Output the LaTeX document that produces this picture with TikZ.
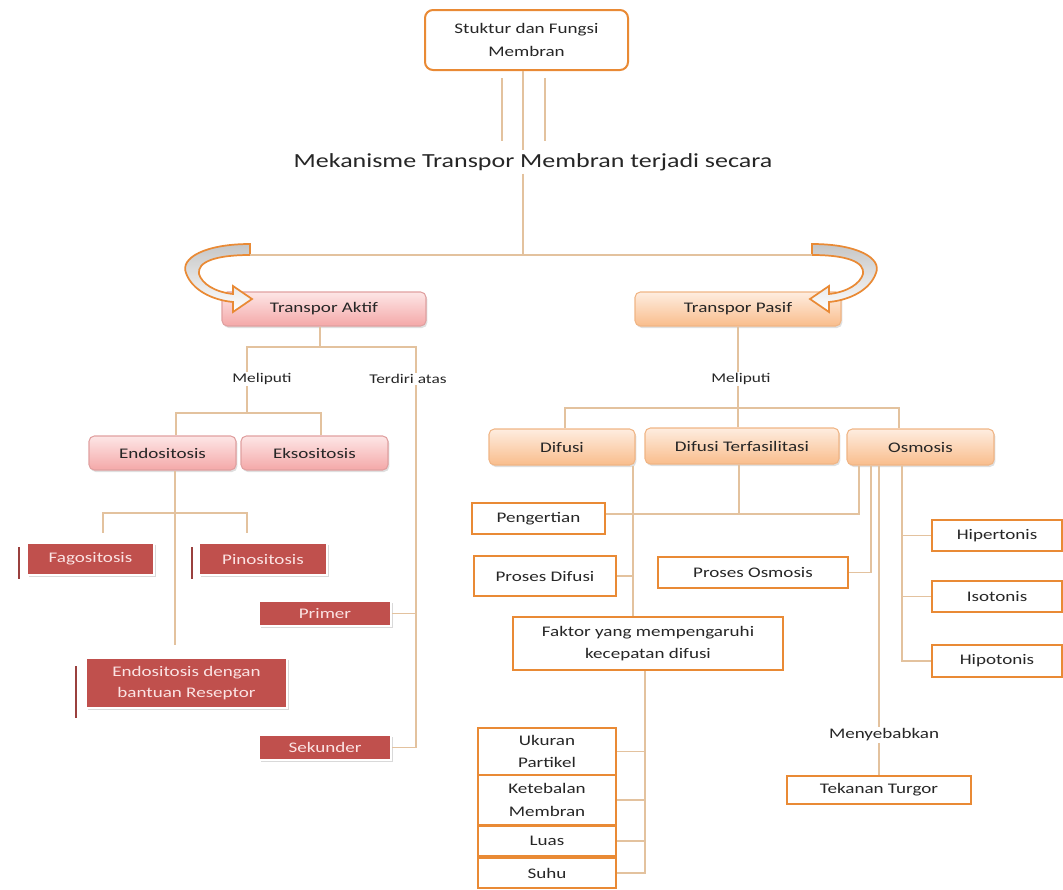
\documentclass[tikz,border=0pt]{standalone}
\usepackage{fontspec}
\setmainfont{Carlito}[FakeStretch=1.3]
\usetikzlibrary{calc,shadows}

\definecolor{orangeB}{HTML}{E98A35}
\definecolor{linkC}{HTML}{E3C29E}
\definecolor{redF}{HTML}{C0504D}
\definecolor{redT}{HTML}{FBE3E3}
\definecolor{pinkTop}{HTML}{FDE6E6}
\definecolor{pinkBot}{HTML}{F4A8A8}
\definecolor{pinkLine}{HTML}{E0A0A0}
\definecolor{peachTop}{HTML}{FEEDE0}
\definecolor{peachBot}{HTML}{F9BD8C}
\definecolor{peachLine}{HTML}{F0B585}
\definecolor{textC}{HTML}{262626}

\tikzset{
  link/.style={draw=linkC, line width=0.9pt},
  boxfont/.style={font=\fontsize{11}{17}\selectfont},
  orangebox/.style={boxfont, draw=orangeB, line width=2pt, fill=white, text=textC,
    inner sep=0pt, align=center},
  pinkbox/.style={boxfont, rounded corners=4pt, draw=pinkLine, line width=0.8pt,
    top color=pinkTop, bottom color=pinkBot, text=textC, inner sep=0pt,
    drop shadow={shadow xshift=1pt, shadow yshift=-1.5pt, opacity=0.25}},
  peachbox/.style={boxfont, rounded corners=4pt, draw=peachLine, line width=0.8pt,
    top color=peachTop, bottom color=peachBot, text=textC, inner sep=0pt,
    drop shadow={shadow xshift=1pt, shadow yshift=-1.5pt, opacity=0.25}},
  redbox/.style={boxfont, fill=redF, draw=white, line width=1.5pt, text=redT,
    inner sep=0pt, align=center,
    drop shadow={shadow xshift=1.5pt, shadow yshift=-1.5pt, opacity=0.3}},
  redbar/.style={draw=redF!80!black, line width=2.2pt},
  lbl/.style={text=textC, font=\fontsize{10}{12}\selectfont, inner sep=1pt},
  bendfill/.style={draw=orangeB, line width=1.3pt, top color=gray!45, bottom color=white},
  bendarrow/.style={insert path={(250,244) .. controls (205,244) and (180,258) .. (186,273)
    .. controls (192,290) and (212,300) .. (233,302) -- (233,312) -- (252,299)
    -- (233,286) -- (233,294) .. controls (215,292) and (202,284) .. (199,274)
    .. controls (197,262) and (215,255) .. (250,255) -- cycle}},
}

\begin{document}
\begin{tikzpicture}[x=0.75pt,y=-0.75pt]
  \useasboundingbox (0,0) rectangle (1063,889);

  % top of the map
  \node[orangebox, rounded corners=6pt, line width=1.5pt, minimum width=152.25pt,
    minimum height=45pt] (top) at (526.5,40) {Stuktur dan Fungsi\\Membran};
  \node[text=textC, font=\fontsize{15}{18}\selectfont, inner sep=2pt] (title) at (533,162)
    {Mekanisme Transpor Membran terjadi secara};

  \coordinate (jA) at (523,255);
  \coordinate (lA) at (250,255);
  \coordinate (rA) at (812,255);

  \node[pinkbox, minimum width=153pt, minimum height=25.5pt] (aktif) at (324,309) {Transpor Aktif};
  \node[peachbox, minimum width=154.5pt, minimum height=25.5pt] (pasif) at (738,309) {Transpor Pasif};

  % transpor aktif
  \node[lbl] (mlA) at (262,379) {Meliputi};
  \node[lbl] (tdA) at (408,379) {Terdiri atas};
  \node[pinkbox, minimum width=110.25pt, minimum height=25.5pt] (endo) at (162.5,453) {Endositosis};
  \node[pinkbox, minimum width=110.25pt, minimum height=25.5pt] (ekso) at (314.5,453) {Eksositosis};
  \node[redbox, minimum width=95.25pt, minimum height=24pt] (fago) at (90.5,559) {Fagositosis};
  \node[redbox, minimum width=96pt, minimum height=24pt] (pino) at (263,559) {Pinositosis};
  \node[redbox, minimum width=99pt, minimum height=18.75pt] (primer) at (325,613.5) {Primer};
  \node[redbox, minimum width=150.75pt, minimum height=37.5pt, font=\fontsize{11}{16}\selectfont]
    (resep) at (186.5,683) {Endositosis dengan\\bantuan Reseptor};
  \node[redbox, minimum width=99pt, minimum height=18.75pt] (sekunder) at (325,747.5) {Sekunder};
  \draw[redbar] ($(fago.north west)+(-7,5)$) -- ($(fago.south west)+(-7,3)$);
  \draw[redbar] ($(pino.north west)+(-6,5)$) -- ($(pino.south west)+(-6,3)$);
  \draw[redbar] ($(resep.north west)+(-9,9)$) -- ($(resep.south west)+(-9,9)$);

  % transpor pasif
  \node[lbl] (mlP) at (741,379) {Meliputi};
  \node[peachbox, minimum width=109.5pt, minimum height=27pt] (difusi) at (562,447) {Difusi};
  \node[peachbox, minimum width=145.5pt, minimum height=27pt] (dt) at (742,446) {Difusi Terfasilitasi};
  \node[peachbox, minimum width=110.25pt, minimum height=27pt] (osmo) at (920.5,447) {Osmosis};
  \node[orangebox, minimum width=99.75pt, minimum height=23.25pt] (peng) at (538.5,518.5) {Pengertian};
  \node[orangebox, minimum width=106.5pt, minimum height=30pt] (pdif) at (545,576) {Proses Difusi};
  \node[orangebox, minimum width=142.5pt, minimum height=23.25pt] (posmo) at (753,572.5) {Proses Osmosis};
  \node[orangebox, minimum width=202.5pt, minimum height=39.75pt] (faktor) at (648,643.5)
    {Faktor yang mempengaruhi\\kecepatan difusi};
  \node[orangebox, minimum width=97.5pt, minimum height=23.25pt] (hiper) at (997,535.5) {Hipertonis};
  \node[orangebox, minimum width=97.5pt, minimum height=23.25pt] (iso) at (997,596.5) {Isotonis};
  \node[orangebox, minimum width=97.5pt, minimum height=24pt] (hipo) at (997,661) {Hipotonis};
  \node[lbl, font=\fontsize{11}{13}\selectfont] (meny) at (884,735) {Menyebabkan};
  \node[orangebox, minimum width=138pt, minimum height=21pt] (turgor) at (879,790) {Tekanan Turgor};
  \node[orangebox, minimum width=103.5pt, minimum height=35.25pt] (ukuran) at (547,751.5) {Ukuran\\Partikel};
  \node[orangebox, minimum width=103.5pt, minimum height=37.5pt] (tebal) at (547,800) {Ketebalan\\Membran};
  \node[orangebox, minimum width=103.5pt, minimum height=22.5pt] (luas) at (547,841) {Luas};
  \node[orangebox, minimum width=103.5pt, minimum height=22.5pt] (suhu) at (547,873) {Suhu};

  % bent arrows
  \draw[bendfill, bendarrow];
  \begin{scope}[xshift=796.5pt, xscale=-1]
    \draw[bendfill, bendarrow];
  \end{scope}

  % connectors
  \draw[link] (top.south -| jA) -- (title.north -| jA);
  \draw[link] ($(top.south -| jA)+(-21,7)$) -- ($(title.north -| jA)+(-21,-9)$);
  \draw[link] ($(top.south -| jA)+(22,7)$) -- ($(title.north -| jA)+(22,-9)$);
  \draw[link] (title.south -| jA) -- (jA);
  \draw[link] (lA) -- (rA);

  \coordinate (jB) at (320,347);
  \coordinate (kA) at (247,347);
  \coordinate (kB) at (416,347);
  \coordinate (cE) at (176,413);
  \coordinate (cK) at (321,413);
  \draw[link] (aktif.south -| jB) -- (jB);
  \draw[link] (kA |- mlA.north) -- (kA) -- (kB) -- (kB |- tdA.north);
  \draw[link] (kA |- mlA.south) -- (kA |- cE);
  \draw[link] (endo.north -| cE) -- (cE) -- (cK) -- (ekso.north -| cK);
  \draw[link] (kB |- tdA.south) -- (kB |- sekunder.east) -- (sekunder.east);
  \draw[link] (primer.east) -- (primer.east -| kB);

  \coordinate (cF) at (175,513);
  \coordinate (cG) at (103,513);
  \coordinate (cH) at (247,513);
  \draw[link, shorten >=9pt] (endo.south -| cF) -- (resep.north -| cF);
  \draw[link, shorten <=7pt, shorten >=7pt] (fago.north -| cG) -- (cG) -- (cH) -- (pino.north -| cH);

  \coordinate (cP1) at (565,408);
  \coordinate (cP3) at (899,408);
  \draw[link] (pasif.south) -- (pasif.south |- mlP.north);
  \draw[link] (pasif.south |- mlP.south) -- (dt.north -| pasif.south);
  \draw[link] (difusi.north -| cP1) -- (cP1) -- (cP3) -- (osmo.north -| cP3);

  \coordinate (cQ) at (739,514);
  \coordinate (cR) at (859,514);
  \coordinate (cS) at (633,576);
  \coordinate (cT) at (871,575);
  \coordinate (cU) at (879,700);
  \coordinate (cV) at (902,600);
  \coordinate (cW) at (645,883);
  \draw[link] (dt.south -| cQ) -- (cQ);
  \draw[link] (peng.east |- cQ) -- (cR) -- (osmo.south -| cR);
  \draw[link] (difusi.south -| cS) -- (faktor.north -| cS);
  \draw[link] (pdif.east) -- (pdif.east -| cS);
  \draw[link] (posmo.east) -- (posmo.east -| cT) -- (osmo.south -| cT);
  \draw[link] (osmo.south -| cU) -- (meny.north -| cU);
  \draw[link] (meny.south -| cU) -- (turgor.north -| cU);
  \draw[link] (osmo.south -| cV) -- (cV |- hipo.west) -- (hipo.west);
  \draw[link] (hiper.west) -- (hiper.west -| cV);
  \draw[link] (iso.west) -- (iso.west -| cV);
  \draw[link] (faktor.south -| cW) -- (cW |- suhu.east) -- (suhu.east);
  \draw[link] (ukuran.east) -- (ukuran.east -| cW);
  \draw[link] (tebal.east) -- (tebal.east -| cW);
  \draw[link] (luas.east) -- (luas.east -| cW);
\end{tikzpicture}
\end{document}
